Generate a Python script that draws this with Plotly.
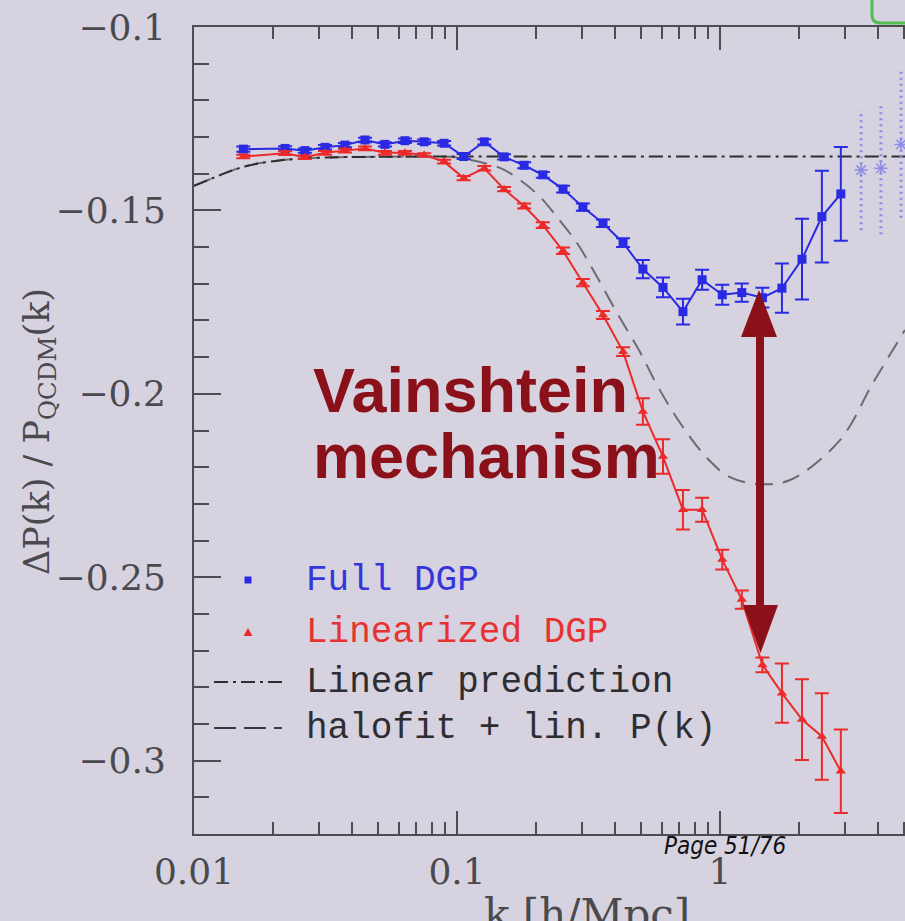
import plotly.graph_objects as go

# ---------------- data ----------------
k = [0.0154, 0.0222, 0.0264, 0.0315, 0.0375, 0.0447, 0.0532, 0.0634, 0.075, 0.0893,
     0.106, 0.127, 0.151, 0.180, 0.212, 0.253, 0.301, 0.359, 0.428, 0.509,
     0.607, 0.723, 0.855, 1.02, 1.21, 1.45, 1.72, 2.05, 2.44, 2.88]

full_dgp = [-0.1333, -0.1331, -0.1337, -0.1328, -0.1322, -0.1308, -0.1320, -0.1310, -0.1313, -0.1317,
            -0.1353, -0.1313, -0.1354, -0.1377, -0.1403, -0.1442, -0.1491, -0.1535, -0.1588, -0.1660,
            -0.1710, -0.1776, -0.1689, -0.1730, -0.1724, -0.1738, -0.1712, -0.1633, -0.1517, -0.1455]
full_err = [0.0007, 0.0006, 0.0006, 0.0006, 0.0006, 0.0006, 0.0006, 0.0006, 0.0006, 0.0006,
            0.0007, 0.0007, 0.0007, 0.0008, 0.0008, 0.0009, 0.0010, 0.0010, 0.0012, 0.0025,
            0.0027, 0.0035, 0.0027, 0.0027, 0.0025, 0.0027, 0.0067, 0.0110, 0.0125, 0.0128]

lin_dgp = [-0.1353, -0.1344, -0.1355, -0.1343, -0.1337, -0.1331, -0.1343, -0.1343, -0.1349, -0.1367,
           -0.1412, -0.1385, -0.1442, -0.1488, -0.1540, -0.1610, -0.1697, -0.1785, -0.1885, -0.2048,
           -0.2171, -0.2316, -0.2316, -0.2452, -0.2561, -0.2739, -0.2816, -0.2888, -0.2934, -0.3029]
lin_err = [0.0005, 0.0005, 0.0005, 0.0005, 0.0005, 0.0005, 0.0005, 0.0005, 0.0005, 0.0005,
           0.0006, 0.0006, 0.0006, 0.0007, 0.0008, 0.0009, 0.0010, 0.0011, 0.0012, 0.0036,
           0.0047, 0.0054, 0.0033, 0.0027, 0.0025, 0.0020, 0.0081, 0.0110, 0.0118, 0.0114]

k_linpred = [0.01, 0.0115, 0.0135, 0.016, 0.02, 0.025, 0.035, 0.05, 0.1, 1.0, 5.1]
lin_pred = [-0.1433, -0.1415, -0.1395, -0.1378, -0.1366, -0.1359, -0.1355, -0.1354, -0.1353, -0.1353, -0.1353]

k_halofit = [0.01, 0.0115, 0.0135, 0.016, 0.02, 0.025, 0.035, 0.05, 0.094, 0.1121, 0.1457, 0.1736,
             0.2068, 0.2400, 0.2860, 0.3405, 0.4058, 0.4964, 0.5760, 0.7046, 0.8926,
             1.0914, 1.4192, 1.8457, 2.859, 3.818, 5.05]
halofit = [-0.1433, -0.1415, -0.1395, -0.1378, -0.1366, -0.1359, -0.1355, -0.1354, -0.1354, -0.1362,
           -0.1384, -0.1417, -0.1463, -0.1518, -0.1589, -0.1681, -0.1779, -0.1886, -0.1976, -0.2079,
           -0.2175, -0.2227, -0.2246, -0.2235, -0.2126, -0.1970, -0.1826]

k_faint = [3.44, 4.09, 4.88]
faint = [-0.1390, -0.1385, -0.1320]
faint_err = [0.0164, 0.0180, 0.0200]

xtick_vals = [0.01, 0.1, 1]
xtick_text = ["0.01", "0.1", "1"]
ytick_vals = [-0.3, -0.25, -0.2, -0.15, -0.1]
ytick_text = ["\u22120.3", "\u22120.25", "\u22120.2", "\u22120.15", "\u22120.1"]

legend_labels = ["Full DGP", "Linearized DGP", "Linear prediction", "halofit + lin. P(k)"]

# ---------------- layout geometry ----------------
W, H = 905, 921
L, T, B = 194, 27, 834
R = 905
BG = "#d6d2df"
AX = "#4e4e52"
BLUE = "#2a2ae4"
RED = "#ec2a2a"
DARKRED = "#8a1019"


def px(xp):
    return (xp - L) / (R - L)


def py(yp):
    return (B - yp) / (B - T)


fig = go.Figure()

# halofit (dashed)
fig.add_trace(go.Scatter(x=k_halofit, y=halofit, mode="lines",
                         line=dict(color="#6c6c70", width=2, dash="18px,10px", shape="spline"),
                         showlegend=False, hoverinfo="skip"))
# linear prediction (dash-dot)
fig.add_trace(go.Scatter(x=k_linpred, y=lin_pred, mode="lines",
                         line=dict(color="#2e2e30", width=2, dash="14px,5px,3px,5px", shape="spline"),
                         showlegend=False, hoverinfo="skip"))

# faint extra points (top right)
fx, fy = [], []
for kk, v, e in zip(k_faint, faint, faint_err):
    fx += [kk, kk, None]
    fy += [v - e, v + e, None]
fig.add_trace(go.Scatter(x=fx, y=fy, mode="lines",
                         line=dict(color="#8c8ce6", width=3, dash="2px,4px"),
                         showlegend=False, hoverinfo="skip"))
fig.add_trace(go.Scatter(x=k_faint, y=faint, mode="markers",
                         marker=dict(symbol="asterisk-open", size=11, color="#8c8ce6",
                                     line=dict(color="#8c8ce6", width=1.5)),
                         showlegend=False, hoverinfo="skip"))

# Full DGP
fig.add_trace(go.Scatter(x=k, y=full_dgp, mode="lines+markers",
                         line=dict(color=BLUE, width=2),
                         marker=dict(symbol="square", size=9, color=BLUE),
                         error_y=dict(type="data", array=full_err, color=BLUE, thickness=2, width=7),
                         showlegend=False))
# Linearized DGP
fig.add_trace(go.Scatter(x=k, y=lin_dgp, mode="lines+markers",
                         line=dict(color=RED, width=2),
                         marker=dict(symbol="triangle-up", size=9, color=RED),
                         error_y=dict(type="data", array=lin_err, color=RED, thickness=2, width=7),
                         showlegend=False))

serif = "DejaVu Serif, Liberation Serif, serif"
mono = "Liberation Mono, DejaVu Sans Mono, monospace"
tickfont = dict(family=serif, size=36, color="#4a4a4e")

fig.update_xaxes(type="log", range=[-2, 0.7034], showline=True, linecolor=AX, linewidth=2,
                 mirror="ticks", ticks="inside", ticklen=23, tickwidth=2, tickcolor=AX,
                 tickmode="array", tickvals=xtick_vals, ticktext=xtick_text, tickfont=tickfont,
                 ticklabelstandoff=5,
                 minor=dict(tickmode="array",
                            tickvals=[m * 10.0 ** e for e in (-2, -1, 0) for m in range(2, 10)],
                            ticks="inside", ticklen=12, tickwidth=2, tickcolor=AX, showgrid=False),
                 showgrid=False, zeroline=False)
fig.update_yaxes(range=[-0.32, -0.1], showline=True, linecolor=AX, linewidth=2, mirror=False,
                 ticks="inside", ticklen=27, tickwidth=2, tickcolor=AX,
                 tickmode="array", tickvals=ytick_vals, ticktext=ytick_text, tickfont=tickfont,
                 ticklabelstandoff=19,
                 minor=dict(dtick=0.01, tick0=0, ticks="inside", ticklen=15, tickwidth=2,
                            tickcolor=AX, showgrid=False),
                 showgrid=False, zeroline=False)

shapes = []
# legend keys
shapes.append(dict(type="rect", xref="paper", yref="paper",
                   x0=px(244.5), x1=px(251.5), y0=py(583.5), y1=py(576.5),
                   fillcolor=BLUE, line=dict(width=0)))
shapes.append(dict(type="path", xref="paper", yref="paper",
                   path=f"M {px(248)},{py(628)} L {px(252.5)},{py(636)} L {px(243.5)},{py(636)} Z",
                   fillcolor=RED, line=dict(width=0)))
shapes.append(dict(type="line", xref="paper", yref="paper",
                   x0=px(214), x1=px(282), y0=py(682), y1=py(682),
                   line=dict(color="#2e2e30", width=2, dash="14px,5px,3px,5px")))
shapes.append(dict(type="line", xref="paper", yref="paper",
                   x0=px(214), x1=px(282), y0=py(728), y1=py(728),
                   line=dict(color="#3a3a3e", width=2, dash="22px,8px")))

# double-headed arrow
shapes.append(dict(type="line", xref="paper", yref="paper",
                   x0=px(760), x1=px(760), y0=py(330), y1=py(610),
                   line=dict(color=DARKRED, width=8)))
shapes.append(dict(type="path", xref="paper", yref="paper",
                   path=f"M {px(759)},{py(290)} L {px(777)},{py(337)} L {px(741)},{py(337)} Z",
                   fillcolor=DARKRED, line=dict(width=0)))
shapes.append(dict(type="path", xref="paper", yref="paper",
                   path=f"M {px(760.5)},{py(653)} L {px(778)},{py(605)} L {px(743)},{py(605)} Z",
                   fillcolor=DARKRED, line=dict(width=0)))

# green corner mark (top right)
shapes.append(dict(type="path", xref="paper", yref="paper",
                   path=(f"M {px(872)},{py(0)} L {px(872)},{py(15)} "
                         f"Q {px(872)},{py(23)} {px(880)},{py(23)} L {px(905)},{py(23)}"),
                   line=dict(color="#4fbf4f", width=3)))

annotations = []
leg_colors = ["#3535dc", "#e83232", "#2e2e32", "#2e2e32"]
leg_y = [580, 632, 682, 728]
for lab, col, yy in zip(legend_labels, leg_colors, leg_y):
    annotations.append(dict(xref="paper", yref="paper", x=px(304), y=py(yy),
                            xanchor="left", yanchor="middle", showarrow=False, text=lab,
                            font=dict(family=mono, size=36, color=col)))

annotations.append(dict(xref="paper", yref="paper", x=px(311), y=py(390),
                        xanchor="left", yanchor="middle", showarrow=False, text="<b>Vainshtein</b>",
                        font=dict(family="Liberation Sans, Arial, sans-serif", size=63, color=DARKRED)))
annotations.append(dict(xref="paper", yref="paper", x=px(311), y=py(456),
                        xanchor="left", yanchor="middle", showarrow=False, text="<b>mechanism</b>",
                        font=dict(family="Liberation Sans, Arial, sans-serif", size=63, color=DARKRED)))

annotations.append(dict(xref="paper", yref="paper", x=px(40), y=py(432),
                        xanchor="center", yanchor="middle", showarrow=False, textangle=-90,
                        text="\u0394P(k) / P<sub>QCDM</sub>(k)",
                        font=dict(family=serif, size=35, color="#4a4a4e")))
annotations.append(dict(xref="paper", yref="paper", x=px(587), y=py(888),
                        xanchor="center", yanchor="top", showarrow=False,
                        text="k [h/Mpc]",
                        font=dict(family=serif, size=42, color="#4a4a4e")))
annotations.append(dict(xref="paper", yref="paper", x=px(725), y=py(846),
                        xanchor="center", yanchor="middle", showarrow=False,
                        text="<i>Page 51/76</i>",
                        font=dict(family="Liberation Sans Narrow, DejaVu Sans Condensed, Liberation Sans, sans-serif",
                                  size=24, color="#111111")))

fig.update_layout(width=W, height=H, margin=dict(l=L, r=W - R, t=T, b=H - B, pad=0),
                  paper_bgcolor=BG, plot_bgcolor=BG, shapes=shapes, annotations=annotations,
                  showlegend=False)

fig.write_html("out.html")
